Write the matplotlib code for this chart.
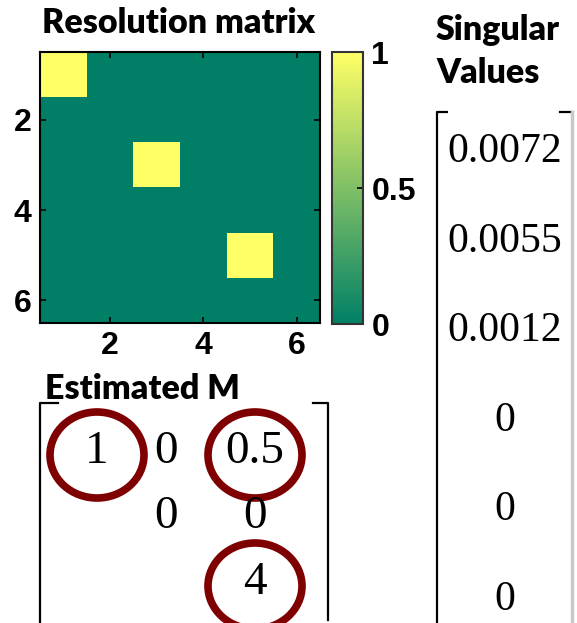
import numpy as np
import matplotlib.pyplot as plt
from matplotlib.patches import Ellipse
from matplotlib.font_manager import FontProperties

# resolution matrix diagonal (only parameters 1, 3, 5 are resolved)
res_diag = [1, 0, 1, 0, 1, 0]
tick_vals = [2, 4, 6]
cbar_ticks = [0, 0.5, 1]
cbar_labels = ['0', '0.5', '1']

singular_values = ['0.0072', '0.0055', '0.0012', '0', '0', '0']

# estimated model entries: (row, col, text)
est_rows = [0, 0, 0, 1, 1, 2]
est_cols = [0, 1, 2, 1, 2, 2]
est_text = ['1', '0', '0.5', '0', '0', '4']
circled = [(0, 0), (0, 2), (2, 2)]

W, H = 577, 623
fig = plt.figure(figsize=(W / 100, H / 100), dpi=100)


def box(x0, y0, x1, y1):
    # pixel box (top-left origin) -> figure fraction rect
    return [x0 / W, 1 - y1 / H, (x1 - x0) / W, (y1 - y0) / H]


title_font = dict(family='Lato', weight='heavy', size=24.5)
tick_fp = FontProperties(family='Liberation Sans', weight='bold', size=23)

# ---- resolution matrix ----
ax = fig.add_axes(box(40, 52, 320, 323))
R = np.diag(res_diag).astype(float)
im = ax.imshow(R, cmap='summer', vmin=0, vmax=1, aspect='auto',
               extent=(0.5, 6.5, 6.5, 0.5), interpolation='nearest')
ax.set_xticks(tick_vals)
ax.set_yticks(tick_vals)
ax.set_xticklabels([str(t) for t in tick_vals])
ax.set_yticklabels([str(t) for t in tick_vals])
ax.tick_params(direction='in', length=4, width=1.2, top=True, right=True, pad=6)
for lbl in ax.get_xticklabels() + ax.get_yticklabels():
    lbl.set_fontproperties(tick_fp)
for s in ax.spines.values():
    s.set_linewidth(1.5)

cax = fig.add_axes(box(332, 52, 363, 324))
cb = fig.colorbar(im, cax=cax, ticks=cbar_ticks)
cb.ax.set_yticklabels(cbar_labels)
cb.ax.tick_params(direction='in', length=4, width=1.2, pad=6)
for lbl in cb.ax.get_yticklabels():
    lbl.set_fontproperties(tick_fp)
cb.outline.set_linewidth(1.5)
cb.outline.set_edgecolor('#333333')

# ---- overlay for text, brackets and circles ----
ov = fig.add_axes([0, 0, 1, 1])
ov.set_xlim(0, W)
ov.set_ylim(H, 0)
ov.axis('off')
ov.patch.set_alpha(0)

fig.text(42 / W, 1 - 23 / H, 'Resolution matrix', va='center', ha='left', **title_font)

# singular values column
fig.text(436 / W, 1 - 30 / H, 'Singular', va='center', ha='left', **title_font)
fig.text(436 / W, 1 - 73 / H, 'Values', va='center', ha='left', **title_font)
ov.plot([448, 437, 437], [112, 112, H], color='black', lw=1.6, solid_capstyle='butt')
ov.plot([560, 572], [112, 112], color='black', lw=1.6)
ov.plot([572, 572], [112, H], color='#c8c8c8', lw=2.5)
for i, sv in enumerate(singular_values):
    ov.text(505, 152 + i * 89.5, sv, ha='center', va='center',
            family='Liberation Serif', size=30)

# estimated model matrix
fig.text(45 / W, 1 - 389 / H, 'Estimated M', va='center', ha='left', **title_font)
ov.plot([58, 40, 40], [403, 403, H], color='black', lw=1.6)
ov.plot([313, 328, 328], [403, 403, 620], color='black', lw=1.6)
col_x = [97, 166, 255]
row_y = [452, 517, 583]
for r, c, t in zip(est_rows, est_cols, est_text):
    ov.text(col_x[c], row_y[r], t, ha='center', va='center',
            family='Liberation Serif', size=34)
for r, c in circled:
    ov.add_patch(Ellipse((col_x[c], row_y[r] + 3), 94, 86, fill=False,
                         edgecolor='#7f0000', lw=5.5))

fig.savefig('out.png', dpi=100)
